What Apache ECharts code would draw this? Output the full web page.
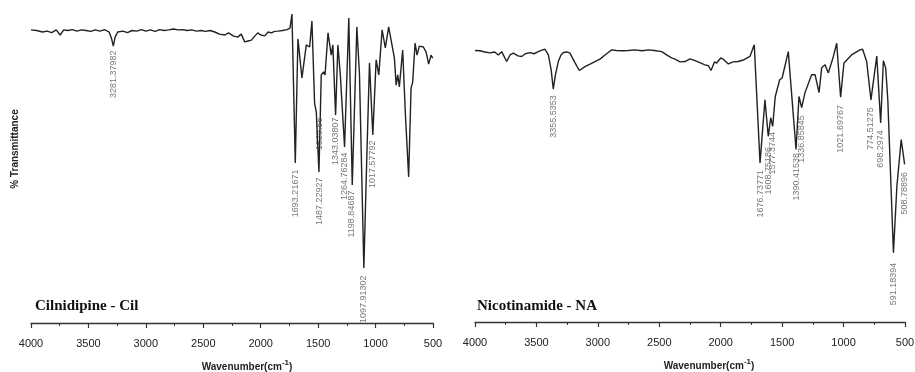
<!DOCTYPE html>
<html>
<head>
<meta charset="utf-8">
<script src="https://cdn.jsdelivr.net/npm/echarts@6/dist/echarts.min.js"></script>
<style>
  html, body { margin: 0; padding: 0; background: #fff; }
  #chart { width: 915px; height: 372px; }
</style>
</head>
<body>
<div id="chart"></div>
<script>
  // 横轴刻度 (cm-1)
  var xTicks = [4000, 3500, 3000, 2500, 2000, 1500, 1000, 500];

  // Cilnidipine 光谱 [波数, %T]
  var cilSpectrum = [
    [4000, 97.7], [3950, 97.5], [3900, 97.0], [3860, 97.3], [3820, 96.8], [3780, 97.7],
    [3746, 96.0], [3715, 97.7], [3680, 97.5], [3640, 97.8], [3600, 97.3], [3560, 97.7],
    [3520, 97.5], [3480, 97.2], [3440, 97.7], [3400, 97.3], [3360, 97.8], [3320, 97.0],
    [3300, 95.0], [3283, 92.3], [3268, 95.3], [3245, 97.0], [3200, 97.3], [3160, 96.8],
    [3120, 97.5], [3080, 97.3], [3040, 97.8], [3000, 97.3], [2960, 97.7], [2920, 97.2],
    [2880, 97.8], [2840, 97.5], [2800, 97.7], [2760, 98.0], [2720, 97.7], [2680, 97.8],
    [2640, 97.5], [2600, 97.7], [2560, 97.3], [2520, 97.5], [2480, 97.2], [2440, 97.5],
    [2400, 97.0], [2360, 96.3], [2312, 96.0], [2280, 96.7], [2240, 95.7], [2200, 95.3],
    [2170, 96.3], [2139, 93.7], [2110, 94.0], [2081, 94.3], [2050, 95.7], [2026, 96.7],
    [2000, 96.0], [1965, 95.7], [1935, 97.0], [1907, 96.7], [1880, 97.2], [1850, 97.3],
    [1810, 97.5], [1770, 97.8], [1745, 98.3], [1728, 103.0], [1699, 53.3], [1676, 94.7],
    [1641, 81.7], [1603, 92.7], [1574, 92.0], [1554, 100.7], [1531, 73.3], [1516, 70.3],
    [1493, 50.3], [1473, 82.7], [1453, 83.7], [1440, 82.7], [1414, 96.7], [1386, 89.3],
    [1372, 92.7], [1348, 69.3], [1328, 92.7], [1307, 82.7], [1293, 83.3], [1270, 58.7],
    [1233, 101.7], [1203, 46.0], [1163, 98.7], [1140, 82.7], [1102, 18.3], [1077, 54.3],
    [1053, 86.7], [1024, 62.7], [995, 87.7], [972, 82.7], [943, 97.7], [915, 91.7],
    [886, 98.7], [836, 88.3], [821, 79.3], [807, 82.7], [793, 78.7], [764, 91.0],
    [740, 69.3], [712, 48.7], [691, 78.3], [677, 80.3], [656, 93.3], [639, 89.3],
    [619, 92.3], [584, 92.0], [560, 90.3], [538, 86.3], [517, 89.3], [503, 88.3]
  ];

  // Nicotinamide 光谱 [波数, %T]
  var naSpectrum = [
    [4000, 90.8], [3960, 90.7], [3920, 90.3], [3880, 90.0], [3840, 90.3], [3810, 89.3],
    [3783, 90.4], [3742, 87.1], [3715, 89.3], [3688, 89.9], [3650, 89.0], [3620, 88.8],
    [3590, 89.7], [3552, 90.1], [3520, 89.7], [3485, 90.4], [3450, 91.0], [3430, 91.2],
    [3403, 89.3], [3380, 84.3], [3363, 77.9], [3345, 82.7], [3322, 87.1], [3300, 89.3],
    [3281, 90.1], [3250, 90.3], [3227, 89.9], [3190, 87.0], [3151, 84.1], [3105, 85.4],
    [3060, 86.3], [3023, 87.1], [2980, 88.0], [2942, 89.3], [2910, 90.3], [2887, 91.0],
    [2850, 90.8], [2800, 90.7], [2752, 90.8], [2700, 91.0], [2640, 90.7], [2589, 91.0],
    [2540, 90.8], [2480, 90.4], [2440, 89.3], [2400, 88.3], [2372, 87.9], [2330, 87.0],
    [2291, 87.1], [2250, 88.0], [2209, 87.4], [2170, 86.7], [2128, 86.0], [2100, 85.7],
    [2079, 84.1], [2050, 87.0], [2033, 86.6], [2000, 88.3], [1979, 87.9], [1938, 86.3],
    [1900, 87.0], [1857, 87.1], [1810, 87.7], [1762, 88.8], [1727, 92.7], [1680, 53.2],
    [1640, 74.3], [1613, 62.1], [1593, 68.3], [1577, 65.4], [1556, 75.4], [1520, 81.0],
    [1500, 81.6], [1485, 81.0], [1450, 90.4], [1387, 57.7], [1363, 75.4], [1341, 71.7],
    [1314, 76.7], [1260, 82.7], [1232, 82.7], [1200, 76.7], [1178, 85.0], [1151, 86.0],
    [1124, 83.3], [1083, 88.8], [1056, 93.2], [1024, 75.2], [997, 86.6], [935, 89.3],
    [867, 91.0], [845, 91.2], [812, 87.1], [777, 74.3], [730, 88.9], [698, 66.6],
    [676, 87.4], [657, 84.9], [640, 74.3], [594, 23.2], [566, 45.4], [531, 61.0],
    [512, 55.4], [503, 52.7]
  ];

  // 峰标注 [波数, 文字起点 %T, 文字]
  var cilPeaks = [
    [3285, 91.0, '3281.37982'], [1696, 51.3, '1693.21671'], [1485, 68.7, '1529.56'],
    [1490, 48.7, '1487.22927'], [1348, 68.7, '1343.03807'], [1270, 57.0, '1264.76284'],
    [1212, 44.3, '1198.84687'], [1103, 16.0, '1097.91302'], [1024, 61.0, '1017.57792']
  ];
  var naPeaks = [
    [3363, 76.0, '3355.5353'], [1680, 51.0, '1676.73771'], [1613, 58.7, '1608.75186'],
    [1577, 63.7, '1577.3744'], [1387, 56.7, '1390.41538'], [1341, 69.3, '1336.85845'],
    [1023, 72.7, '1021.69767'], [777, 72.0, '774.51275'], [698, 64.3, '698.2974'],
    [595, 20.0, '591.18394'], [508, 50.3, '508.78896']
  ];

  var chart = echarts.init(document.getElementById('chart'));

  function xAxisOf(idx, shift) {
    return {
      gridIndex: idx,
      type: 'value',
      inverse: true,
      min: xTicks[xTicks.length - 1],
      max: xTicks[0],
      interval: 500,
      splitLine: { show: false },
      axisLine: { lineStyle: { color: '#333', width: 1.3 } },
      axisTick: { inside: false, length: 5, lineStyle: { color: '#333', width: 1.2 } },
      minorTick: { show: true, splitNumber: 2, length: 3, lineStyle: { color: '#333' } },
      axisLabel: {
        color: '#222', fontSize: 11, margin: 15, fontFamily: 'Liberation Sans',
        formatter: function (v) { return String(v); }
      },
      name: '{a|Wavenumber(cm}{s|-1}{a|)}',
      nameLocation: 'middle',
      nameGap: 36,
      nameTextStyle: {
        padding: [0, 0, 0, shift],
        rich: {
          a: { fontSize: 10, fontWeight: 'bold', fontFamily: 'Liberation Sans', color: '#222' },
          s: { fontSize: 8, fontWeight: 'bold', fontFamily: 'Liberation Sans', color: '#222', padding: [0, 0, 8, 0] }
        }
      }
    };
  }

  function yAxisOf(idx) {
    return { gridIndex: idx, type: 'value', min: 0, max: 105, show: false };
  }

  function peakSeries(idx, peaks) {
    return {
      type: 'scatter',
      xAxisIndex: idx,
      yAxisIndex: idx,
      symbolSize: 1,
      itemStyle: { color: 'rgba(0,0,0,0)' },
      silent: true,
      data: peaks.map(function (p) { return { value: [p[0], p[1]], name: p[2] }; }),
      label: {
        show: true,
        position: 'bottom',
        distance: 0,
        rotate: 90,
        align: 'right',
        verticalAlign: 'middle',
        formatter: '{b}',
        fontSize: 9,
        fontFamily: 'Liberation Sans',
        color: '#555'
      }
    };
  }

  function lineSeries(idx, data) {
    return {
      type: 'line',
      xAxisIndex: idx,
      yAxisIndex: idx,
      symbol: 'none',
      data: data,
      lineStyle: { color: '#222', width: 1.4 },
      clip: false
    };
  }

  chart.setOption({
    animation: false,
    title: [
      { text: 'Cilnidipine - Cil', left: 30, top: 294,
        textStyle: { fontFamily: 'Liberation Serif', fontWeight: 'bold', fontSize: 15, color: '#111' } },
      { text: 'Nicotinamide - NA', left: 472, top: 294,
        textStyle: { fontFamily: 'Liberation Serif', fontWeight: 'bold', fontSize: 15, color: '#111' } }
    ],
    graphic: [{
      type: 'text',
      x: 15, y: 149,
      rotation: Math.PI / 2,
      style: { text: '% Transmittance', fontSize: 10, fontWeight: 'bold', fontFamily: 'Liberation Sans',
        fill: '#222', align: 'center', verticalAlign: 'middle' }
    }],
    grid: [
      { left: 31, width: 402, top: 8, height: 315, outerBoundsMode: 'none' },
      { left: 475, width: 430, top: 8, height: 314, outerBoundsMode: 'none' }
    ],
    xAxis: [xAxisOf(0, 30), xAxisOf(1, 38)],
    yAxis: [yAxisOf(0), yAxisOf(1)],
    series: [
      lineSeries(0, cilSpectrum),
      lineSeries(1, naSpectrum),
      peakSeries(0, cilPeaks),
      peakSeries(1, naPeaks)
    ]
  });
</script>
</body>
</html>
